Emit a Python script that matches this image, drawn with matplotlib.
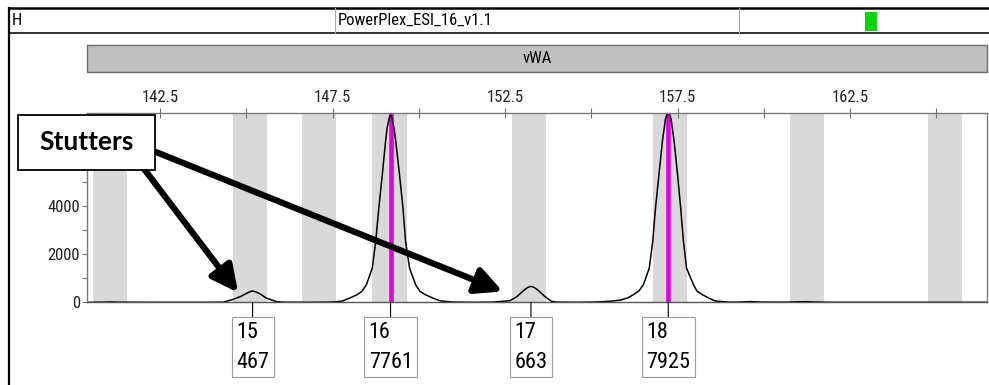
import matplotlib
matplotlib.use('Agg')
import matplotlib.pyplot as plt
from matplotlib import font_manager
from matplotlib.patches import Rectangle
from matplotlib.lines import Line2D

W, H = 989, 385

# pick a narrow sans if one is installed (the reference uses Arial Narrow)
fonts = font_manager.fontManager.ttflist
names = {f.name for f in fonts}
narrow = [n for n in ['Liberation Sans Narrow', 'Roboto Condensed', 'Open Sans Condensed',
                      'DejaVu Sans Condensed', 'Noto Sans Condensed'] if n in names]
stretch = 'normal'
scale = 1.0
if narrow:
    family = narrow[0]
elif any(f.name == 'DejaVu Sans' and f.stretch == 'condensed' for f in fonts):
    family, stretch = 'DejaVu Sans', 'condensed'
elif any(f.name == 'Noto Sans' and f.stretch in ('condensed', 'semi-condensed') for f in fonts):
    family, stretch = 'Noto Sans', 'condensed'
else:
    family, scale = 'Liberation Sans', 0.86
plt.rcParams['font.family'] = [family, 'DejaVu Sans']
plt.rcParams['font.stretch'] = stretch

# panel header
dye = 'H'
kit_name = 'PowerPlex_ESI_16_v1.1'
locus = 'vWA'

# axis ranges / ticks (bp and RFU)
x_min, x_max = 140.38, 166.47
y_max = 7840
major_bp = [142.5, 147.5, 152.5, 157.5, 162.5]
minor_bp = [145, 150, 155, 160, 165]
major_rfu = [0, 2000, 4000, 6000]
major_rfu_labels = ['0', '2000', '4000', '']  # 6000 is hidden under the callout
minor_rfu = [1000, 3000, 5000, 7000]

# allele bins (grey)
bin_centers = [141.05, 145.10, 147.11, 149.15, 153.20, 157.27, 161.25, 165.25]
bin_width = 0.99

# called peaks
alleles = ['15', '16', '17', '18']
allele_bp = [145.18, 149.18, 153.25, 157.23]
allele_rfu = [467, 7761, 663, 7925]
is_true_allele = [False, True, False, True]

# trace: (bp, rfu)
trace = [
    (140.38, 0), (140.80, 5), (141.05, 15), (141.30, 5), (142.50, 0),
    (143.80, 0), (144.33, 5), (144.62, 124), (144.82, 232), (145.01, 373),
    (145.10, 440), (145.18, 467), (145.28, 430), (145.40, 344), (145.59, 166),
    (145.88, 25), (146.12, 5), (146.80, 0), (147.30, 5), (147.60, 20),
    (147.79, 55), (148.00, 178), (148.21, 315), (148.35, 455), (148.48, 730),
    (148.65, 1420), (148.75, 2525), (148.84, 3900), (148.94, 5280), (149.035, 6665),
    (149.08, 7216), (149.12, 7493), (149.15, 7680), (149.18, 7761), (149.21, 7680),
    (149.24, 7493), (149.28, 7216), (149.33, 6665), (149.44, 5280), (149.54, 3900),
    (149.615, 2525), (149.73, 1420), (149.905, 730), (150.03, 455), (150.19, 315),
    (150.40, 178), (150.63, 55), (151.00, 10), (151.60, 0), (152.16, 8),
    (152.64, 66), (152.84, 232), (153.03, 480), (153.15, 610), (153.25, 663),
    (153.35, 610), (153.47, 480), (153.66, 232), (153.85, 40), (154.00, 8),
    (154.60, 0), (155.20, 15), (155.55, 45), (155.84, 90), (156.05, 180),
    (156.22, 315), (156.38, 470), (156.51, 729), (156.68, 1420), (156.78, 2525),
    (156.86, 3904), (156.96, 5283), (157.06, 6665), (157.15, 7600), (157.23, 7925),
    (157.31, 7600), (157.40, 6665), (157.50, 5283), (157.59, 3904), (157.67, 2525),
    (157.76, 1420), (157.96, 729), (158.06, 470), (158.22, 315), (158.40, 178),
    (158.59, 54), (159.00, 5), (159.30, 10), (159.60, 30), (159.90, 10),
    (160.60, 5), (161.00, 20), (161.25, 25), (161.50, 10), (162.00, 0),
    (166.47, 0),
]


def fx(x):
    return x / W


def fy(y):
    return 1 - y / H


fig = plt.figure(figsize=(W / 100, H / 100), dpi=100)

# frame and header strip
fig.add_artist(Line2D([fx(9), 1], [fy(8), fy(8)], color='black', lw=1.8))
fig.add_artist(Line2D([fx(9), 1], [fy(33), fy(33)], color='#333333', lw=1.4))
fig.add_artist(Line2D([fx(9), fx(9)], [fy(8), 0], color='black', lw=1.6))
for xd in [335, 739]:
    fig.add_artist(Line2D([fx(xd), fx(xd)], [fy(8), fy(33)], color='#aaaaaa', lw=0.8))
fig.text(fx(12), fy(20.5), dye, fontsize=12 * scale, ha='left', va='center')
fig.text(fx(338), fy(20.5), kit_name, fontsize=12 * scale, ha='left', va='center')
fig.add_artist(Rectangle((fx(865), fy(31)), fx(12), fy(12) - fy(31),
                         transform=fig.transFigure, facecolor='#0bd40b', edgecolor='none'))

# locus bar
fig.add_artist(Rectangle((fx(87), fy(72)), fx(987) - fx(87), fy(45) - fy(72),
                         transform=fig.transFigure, facecolor='#c0c0c0',
                         edgecolor='#6e6e6e', lw=1))
fig.text(fx(537), fy(58.5), locus, fontsize=12 * scale, ha='center', va='center')

ax = fig.add_axes([fx(87), fy(302.3), fx(987) - fx(87), fy(113) - fy(302.3)])
ax.set_xlim(x_min, x_max)
ax.set_ylim(0, y_max)

for c in bin_centers:
    ax.axvspan(c - bin_width / 2, c + bin_width / 2, color='#d9d9d9', lw=0, zorder=0)

for bp, ok in zip(allele_bp, is_true_allele):
    if ok:
        ax.axvline(bp, color='#dd00dd', lw=3.3, zorder=1)

ax.plot([p[0] for p in trace], [p[1] for p in trace], color='black', lw=1.1, zorder=2)

for a, bp, rfu in zip(alleles, allele_bp, allele_rfu):
    ax.annotate('%s\n%d' % (a, rfu), xy=(bp, 0), xytext=(0, -45),
                textcoords='offset pixels', ha='center', va='center',
                multialignment='left', fontsize=16 * scale, linespacing=1.55,
                bbox=dict(boxstyle='square,pad=0.2', fc='white', ec='#9a9a9a', lw=0.8),
                arrowprops=dict(arrowstyle='-', color='black', lw=0.8,
                                shrinkA=0, shrinkB=0),
                annotation_clip=False)

for sp in ax.spines.values():
    sp.set_color('#7a7a7a')
    sp.set_linewidth(1.0)
ax.spines['bottom'].set_color('#555555')

ax.xaxis.tick_top()
ax.set_xticks(major_bp)
ax.set_xticklabels(['%.1f' % v for v in major_bp])
ax.set_xticks(minor_bp, minor=True)
ax.tick_params(axis='x', which='both', direction='inout', length=7, width=0.8,
               color='#707070', pad=2.5, labelsize=12 * scale, labelcolor='#222222')
ax.set_yticks(major_rfu)
ax.set_yticklabels(major_rfu_labels)
ax.set_yticks(minor_rfu, minor=True)
ax.tick_params(axis='y', which='both', direction='out', length=3.5, width=0.8,
               color='#707070', pad=1.5, labelsize=12 * scale, labelcolor='#222222')

# stutter callout
arrow = dict(arrowstyle='-|>,head_length=0.8,head_width=0.4', mutation_scale=20,
             lw=4.5, color='black', shrinkA=0, shrinkB=0)
ax.annotate('', xy=(allele_bp[0] - 0.42, 400), xytext=(135, H - 157),
            textcoords='figure pixels', arrowprops=arrow, annotation_clip=False)
ax.annotate('', xy=(allele_bp[2] - 0.82, 450), xytext=(140, H - 145.6),
            textcoords='figure pixels', arrowprops=arrow, annotation_clip=False)
fig.add_artist(Rectangle((fx(18), fy(170)), fx(155) - fx(18), fy(115) - fy(170),
                         transform=fig.transFigure, facecolor='white',
                         edgecolor='black', lw=1.3, zorder=10))
fig.text(fx(86.5), fy(142), 'Stutters', fontsize=19, fontweight='bold',
         family=['Lato', 'DejaVu Sans'], stretch='normal',
         ha='center', va='center', zorder=11)

fig.savefig('out.png', dpi=100)
